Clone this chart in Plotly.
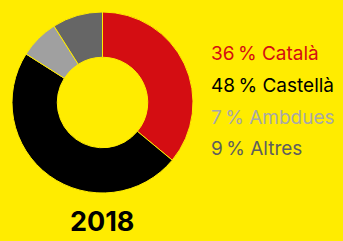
import plotly.graph_objects as go

labels = ["Català", "Castellà", "Ambdues", "Altres"]
values = [36, 48, 7, 9]
colors = ["#D40D12", "#000000", "#A0A0A0", "#666666"]
text_colors = ["#D40D12", "#000000", "#A8A8A8", "#5E5E5E"]
year = "2018"

W, H = 343, 241
bg = "#FFEC00"

fig = go.Figure()
fig.add_trace(go.Pie(
    labels=labels, values=values, hole=0.5, sort=False, direction="clockwise",
    rotation=0, marker=dict(colors=colors, line=dict(color=bg, width=1)),
    textinfo="none", hoverinfo="label+percent",
    domain=dict(x=[12 / W, 193 / W], y=[1 - 193 / H, 1 - 12 / H]),
    showlegend=False,
))

ys = [53, 85, 117, 148]
for lab, val, col, yy in zip(labels, values, text_colors, ys):
    fig.add_annotation(
        x=209 / W, y=1 - yy / H, xref="paper", yref="paper",
        xanchor="left", yanchor="middle", showarrow=False,
        text=f"{val}\u2009% {lab}", font=dict(family="Inter", size=19, color=col),
    )

fig.add_annotation(
    x=102 / W, y=1 - 221 / H, xref="paper", yref="paper",
    xanchor="center", yanchor="middle", showarrow=False,
    text=f"<b>{year}</b>", font=dict(family="Inter", size=27, color="#000000", weight=900),
)

fig.update_layout(
    width=W, height=H, margin=dict(l=0, r=0, t=0, b=0),
    paper_bgcolor=bg, plot_bgcolor=bg,
)
fig.write_html(
    "out.html",
    config={"displayModeBar": False},
    post_script="document.body.style.margin='0';document.body.style.background='#FFEC00';",
)
